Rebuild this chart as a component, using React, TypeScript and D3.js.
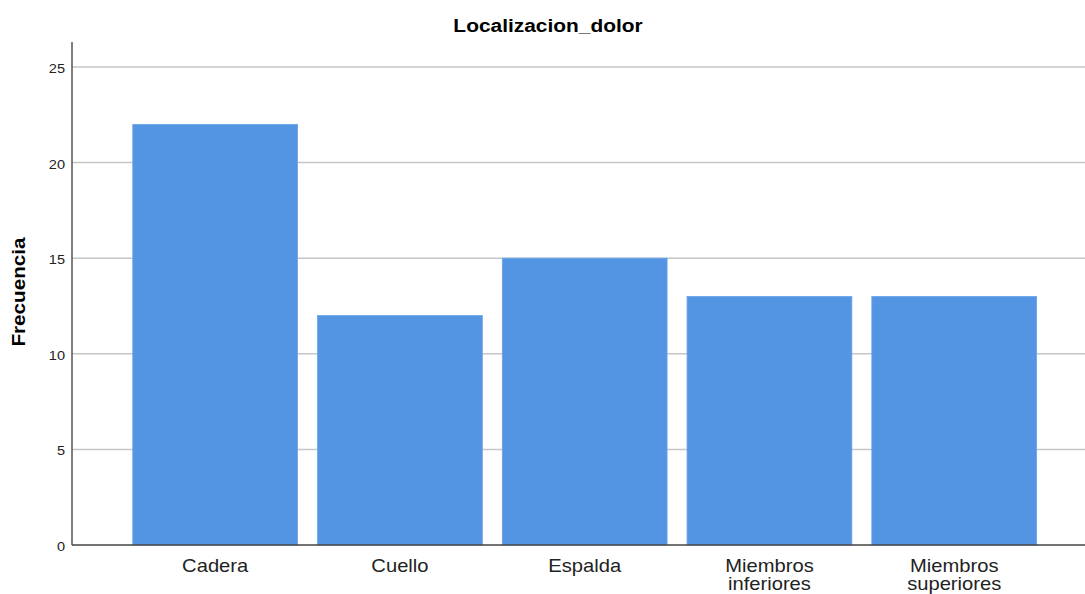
import React from "react";
import * as d3 from "d3";

const categories: string[][] = [
  ["Cadera"],
  ["Cuello"],
  ["Espalda"],
  ["Miembros", "inferiores"],
  ["Miembros", "superiores"],
];
const values: number[] = [22, 12, 15, 13, 13];
const yTicks: number[] = [0, 5, 10, 15, 20, 25];
const title = "Localizacion_dolor";
const yLabel = "Frecuencia";

const W = 1085;
const H = 594;
const axisX = 72;
const plotRight = 1085;
const y0 = 545;
const yTop = 42;

export default function App() {
  const keys = categories.map((c) => c.join(" "));
  const x = d3
    .scaleBand<string>()
    .domain(keys)
    .range([122.8, 1046.6])
    .paddingInner(0.108)
    .paddingOuter(0.054);
  const y = d3.scaleLinear().domain([0, 25]).range([y0, 67]);
  const font = "'Liberation Sans', Arial, sans-serif";

  return (
    <svg
      width={W}
      height={H}
      style={{ position: "absolute", left: 0, top: 0 }}
      fontFamily={font}
    >
      <rect width={W} height={H} fill="#fff" />
      <text
        transform={`translate(548,32) scale(1.1,1)`}
        textAnchor="middle"
        fontSize={19}
        fontWeight="bold"
        fill="#000"
      >
        {title}
      </text>
      <text
        transform={`translate(25,292) rotate(-90) scale(1.15,1)`}
        textAnchor="middle"
        fontSize={18}
        fontWeight="bold"
        fill="#000"
      >
        {yLabel}
      </text>
      {yTicks.map((t) => (
        <g key={t}>
          {t > 0 && (
            <line x1={axisX} x2={plotRight} y1={y(t)} y2={y(t)} stroke="#c6c6c6" strokeWidth={1.5} />
          )}
          <text
            transform={`translate(65,${y(t) + 6}) scale(1.12,1)`}
            textAnchor="end"
            fontSize={13}
            fill="#222"
          >
            {t}
          </text>
        </g>
      ))}
      {values.map((v, i) => (
        <rect
          key={keys[i]}
          x={x(keys[i])}
          y={y(v)}
          width={x.bandwidth()}
          height={y0 - y(v)}
          fill="#5495e3"
          stroke="#6aa4ea"
          strokeWidth={0.8}
        />
      ))}
      <line x1={axisX} x2={axisX} y1={yTop} y2={y0} stroke="#555" strokeWidth={1.5} />
      <line x1={axisX} x2={plotRight} y1={y0} y2={y0} stroke="#444" strokeWidth={1.5} />
      {categories.map((lines, i) => {
        const cx = (x(keys[i]) as number) + x.bandwidth() / 2;
        return (
          <g key={keys[i]} transform={`translate(${cx},0) scale(1.12,1)`}>
            {lines.map((l, j) => (
              <text key={j} x={0} y={572 + j * 18.5} textAnchor="middle" fontSize={18} fill="#222">
                {l}
              </text>
            ))}
          </g>
        );
      })}
    </svg>
  );
}
